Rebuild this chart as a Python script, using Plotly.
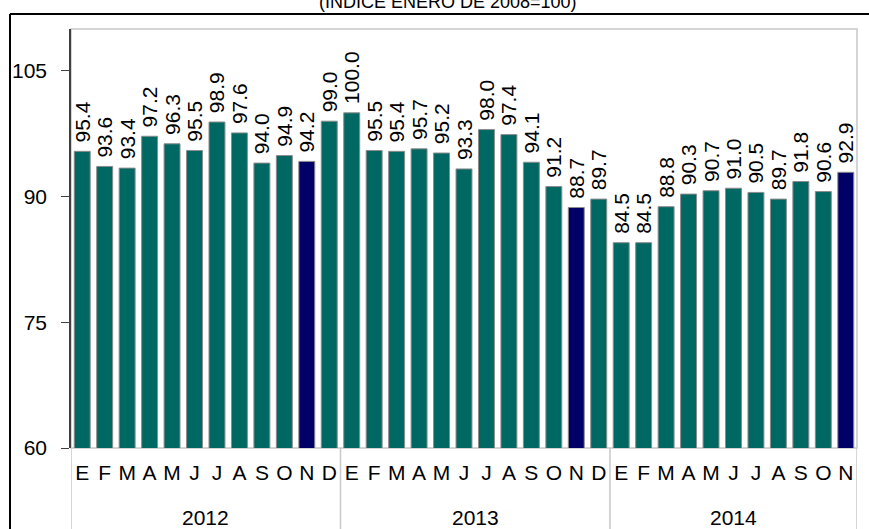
import plotly.graph_objects as go

months_2012 = ["E", "F", "M", "A", "M", "J", "J", "A", "S", "O", "N", "D"]
months_2013 = ["E", "F", "M", "A", "M", "J", "J", "A", "S", "O", "N", "D"]
months_2014 = ["E", "F", "M", "A", "M", "J", "J", "A", "S", "O", "N"]
values_2012 = [95.4, 93.6, 93.4, 97.2, 96.3, 95.5, 98.9, 97.6, 94.0, 94.9, 94.2, 99.0]
values_2013 = [100.0, 95.5, 95.4, 95.7, 95.2, 93.3, 98.0, 97.4, 94.1, 91.2, 88.7, 89.7]
values_2014 = [84.5, 84.5, 88.8, 90.3, 90.7, 91.0, 90.5, 89.7, 91.8, 90.6, 92.9]
years = ["2012", "2013", "2014"]
title_text = "(ÍNDICE ENERO DE 2008=100)"
y_ticks = [60, 75, 90, 105]

TEAL = "#006863"
NAVY = "#000066"
FONT = "Liberation Sans, Arial"

months = months_2012 + months_2013 + months_2014
values = values_2012 + values_2013 + values_2014
groups = [months_2012, months_2013, months_2014]
x = list(range(len(values)))
colors = [NAVY if m == "N" else TEAL for m in months]

fig = go.Figure(go.Bar(
    x=x, y=values, width=0.71,
    marker=dict(color=colors, line=dict(color="#8c8c8c", width=1)),
    text=["\u00a0" + f"{v:.1f}" for v in values],
    textposition="outside", textangle=-90,
    textfont=dict(family=FONT, size=21, color="black"),
    constraintext="none", cliponaxis=False,
    hoverinfo="skip",
))

shapes = []
shapes.append(dict(type="rect", xref="paper", yref="paper", x0=0, x1=1, y0=0, y1=1,
                   line=dict(color="#c8c8c8", width=1.5), layer="below"))
start = 0
bounds = [-0.5]
for g in groups:
    start += len(g)
    bounds.append(start - 0.5)
for b in bounds:
    shapes.append(dict(type="line", xref="x", yref="paper", x0=b, x1=b, y0=0, y1=-0.2,
                       line=dict(color="#c8c8c8", width=1.5)))
# outer black frame
shapes.append(dict(type="line", xref="paper", yref="paper", x0=-0.0776, x1=1.03, y0=1.0358, y1=1.0358,
                   line=dict(color="black", width=2)))
shapes.append(dict(type="line", xref="paper", yref="paper", x0=-0.0776, x1=-0.0776, y0=1.0358, y1=-0.3,
                   line=dict(color="black", width=2)))

annotations = []
start = 0
for yr, g in zip(years, groups):
    center = start + (len(g) - 1) / 2
    annotations.append(dict(x=center, y=-0.1647, xref="x", yref="paper", text=yr, showarrow=False,
                            font=dict(family=FONT, size=21, color="black"), yanchor="middle"))
    start += len(g)
annotations.append(dict(x=0.48, y=1.0358, xref="paper", yref="paper", text=title_text, showarrow=False,
                        font=dict(family=FONT, size=18, color="black"), yanchor="bottom"))

fig.update_layout(
    width=869, height=529,
    margin=dict(l=71, r=12, t=29, b=81),
    paper_bgcolor="white", plot_bgcolor="white",
    showlegend=False,
    shapes=shapes, annotations=annotations,
    uniformtext=dict(minsize=21, mode="show"),
    xaxis=dict(range=[-0.5, len(values) - 0.5], tickmode="array", tickvals=x, ticktext=months,
               showgrid=False, zeroline=False, showline=False, ticks="",
               tickfont=dict(family=FONT, size=21, color="black"),
               ticklabelstandoff=10, fixedrange=True),
    yaxis=dict(range=[60, 110], tickmode="array", tickvals=y_ticks,
               showgrid=False, zeroline=False, showline=True, linecolor="#404040", linewidth=1.5,
               ticks="outside", ticklen=8, tickcolor="#404040", tickwidth=1,
               tickfont=dict(family=FONT, size=21, color="black"),
               ticklabelstandoff=10, fixedrange=True),
    font=dict(family=FONT),
)

fig.write_html("out.html", config={"displayModeBar": False},
               post_script="document.body.style.margin='0';document.body.style.overflow='hidden';")
